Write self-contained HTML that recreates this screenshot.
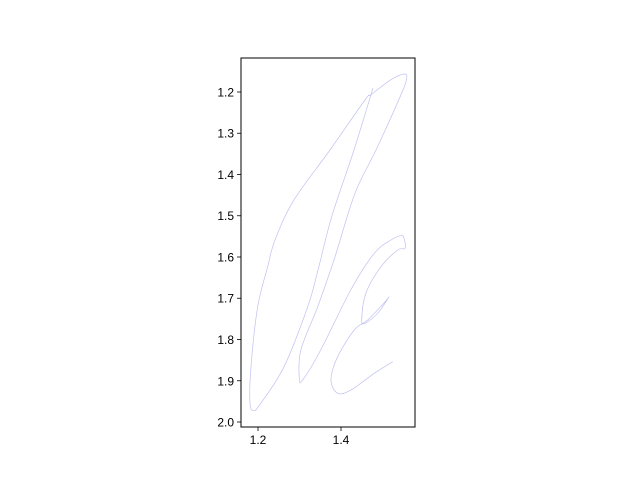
<!DOCTYPE html>
<html><head><meta charset="utf-8"><style>
body{margin:0;background:#fff}
svg{display:block;font-family:"Liberation Sans","DejaVu Sans",sans-serif}
</style></head><body>
<svg id="chart" width="640" height="480" viewBox="0 0 640 480" xmlns="http://www.w3.org/2000/svg">
<rect x="0" y="0" width="640" height="480" fill="#fff"/>
<g id="plot"></g>
</svg>
<script>
const xTicks=[1.2,1.4];
const xTickLabels=["1.2","1.4"];
const yTicks=[1.2,1.3,1.4,1.5,1.6,1.7,1.8,1.9,2.0];
const yTickLabels=["1.2","1.3","1.4","1.5","1.6","1.7","1.8","1.9","2.0"];
const seriesX=[1.4771,1.4313,1.3776,1.3446,1.3198,1.2627,1.2072,1.1896,1.1807,1.1831,1.1993,1.2234,1.2410,1.2867,1.3735,1.4578,1.4723,1.5205,1.5525,1.5583,1.5446,1.4843,1.4337,1.3831,1.3439,1.3036,1.2995,1.3077,1.3518,1.4241,1.4802,1.5205,1.5446,1.5518,1.5542,1.5366,1.4964,1.4602,1.4499,1.4578,1.4884,1.5149,1.5036,1.4643,1.4320,1.3920,1.3759,1.3920,1.4241,1.4802,1.5246];
const seriesY=[1.1903,1.3406,1.5023,1.6315,1.7205,1.8659,1.9539,1.9726,1.9539,1.8659,1.7205,1.6235,1.5588,1.4618,1.3406,1.2194,1.2065,1.1702,1.1564,1.1661,1.2065,1.3406,1.4456,1.6073,1.7205,1.8242,1.8941,1.8982,1.8242,1.6788,1.5910,1.5588,1.5484,1.5539,1.5789,1.5830,1.6235,1.6873,1.7527,1.7607,1.7365,1.6977,1.7115,1.7527,1.7770,1.8417,1.8982,1.9304,1.9224,1.8819,1.8538];
</script>
<script>
const NS="http://www.w3.org/2000/svg";
const L=241,R=415,T=58,B=427;
const x0=1.15904,x1=1.57831,y0=1.11758,y1=2.01212;
function sx(v){return L+(v-x0)/(x1-x0)*(R-L);}
function sy(v){return T+(v-y0)/(y1-y0)*(B-T);}
const plot=document.getElementById('plot');
function mk(t,a){const e=document.createElementNS(NS,t);for(const k in a)e.setAttribute(k,a[k]);plot.appendChild(e);return e;}
const P=seriesX.map((v,i)=>[sx(v),sy(seriesY[i])]);
let d="M"+P[0][0].toFixed(2)+","+P[0][1].toFixed(2);
for(let i=0;i<P.length-1;i++){
  const p0=P[Math.max(i-1,0)],p1=P[i],p2=P[i+1],p3=P[Math.min(i+2,P.length-1)];
  const c1=[p1[0]+(p2[0]-p0[0])/6,p1[1]+(p2[1]-p0[1])/6];
  const c2=[p2[0]-(p3[0]-p1[0])/6,p2[1]-(p3[1]-p1[1])/6];
  d+="C"+c1[0].toFixed(2)+","+c1[1].toFixed(2)+" "+c2[0].toFixed(2)+","+c2[1].toFixed(2)+" "+p2[0].toFixed(2)+","+p2[1].toFixed(2);
}
const line=mk('path',{d:d,fill:"none",stroke:"#c0c0f0","stroke-width":"0.7","stroke-linejoin":"round"});


const frame=mk('rect',{x:L,y:T,width:R-L,height:B-T,fill:"none",stroke:"#000","stroke-width":"1"});


xTicks.forEach((v,i)=>{
  const X=sx(v);
  const t=mk('line',{x1:X,y1:B,x2:X,y2:B+4,stroke:"#000","stroke-width":"0.8"});
  
  
  const l=mk('text',{x:X,y:B+17,"text-anchor":"middle","font-size":"12",fill:"#000"});
  l.textContent=xTickLabels[i];
  
  
});
yTicks.forEach((v,i)=>{
  const Y=sy(v);
  const t=mk('line',{x1:L-4,y1:Y,x2:L,y2:Y,stroke:"#000","stroke-width":"0.8"});
  
  
  const l=mk('text',{x:L-7,y:Y+4.5,"text-anchor":"end","font-size":"12",fill:"#000"});
  l.textContent=yTickLabels[i];
  
  
});
</script>
</body></html>
